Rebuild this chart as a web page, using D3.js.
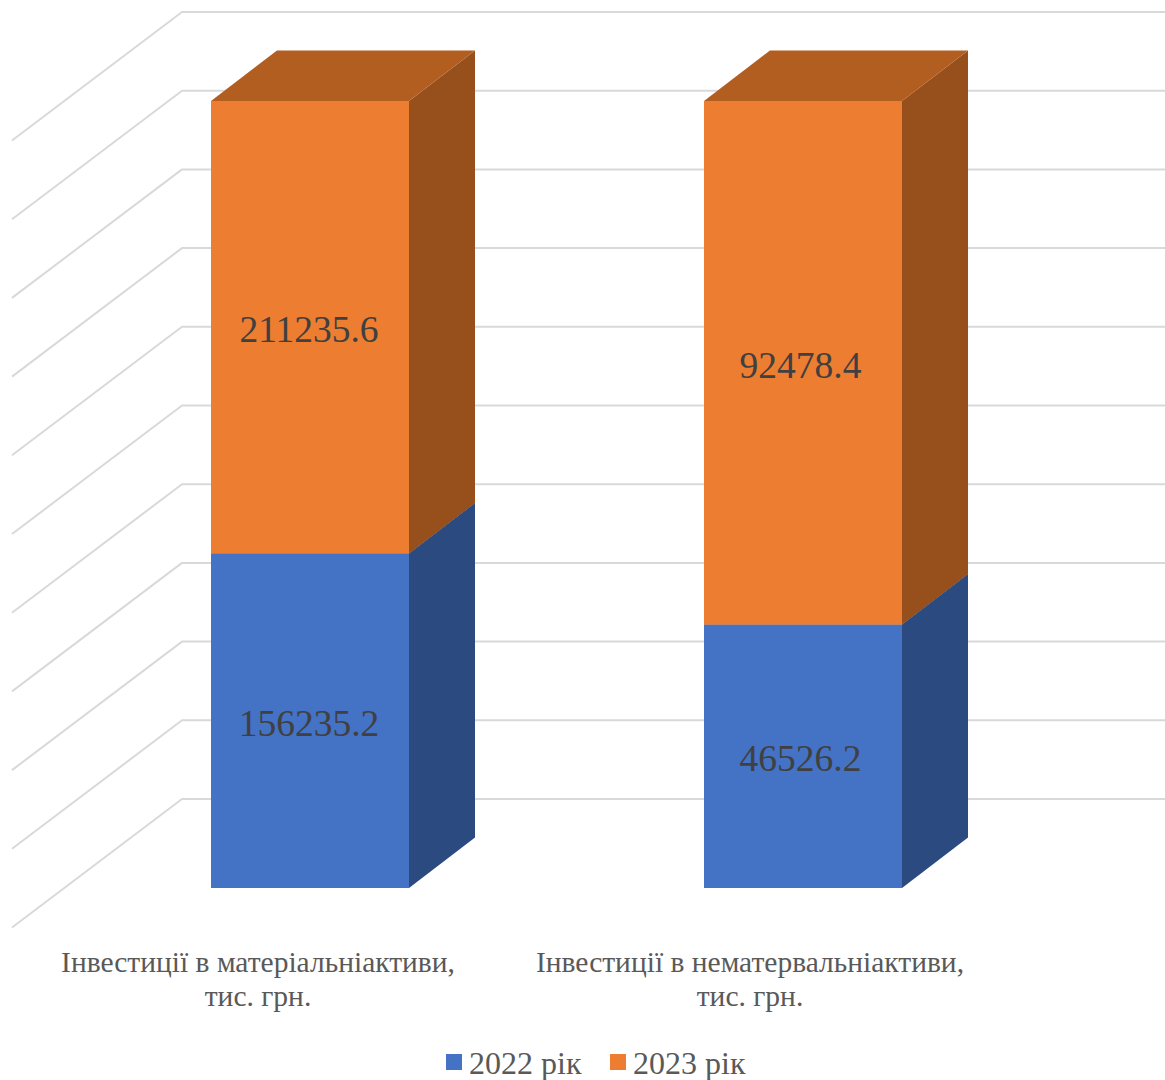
<!DOCTYPE html>
<html lang="uk">
<head>
<meta charset="utf-8">
<script src="https://cdn.jsdelivr.net/npm/d3@7"></script>
<style>
html,body{margin:0;padding:0;background:#fff;overflow:hidden}
svg{display:block;font-family:"Liberation Serif",serif}
</style>
</head>
<body>
<svg id="chart" width="1165" height="1080"></svg>
<script>
const categories = ["matAssets", "intAssets"];
const categoryLabelLines = [
  ["Інвестиції в матеріальніактиви,", "тис. грн."],
  ["Інвестиції в нематервальніактиви,", "тис. грн."]
];
const seriesNames = ["2022 рік", "2023 рік"];
const values2022 = [156235.2, 46526.2];
const values2023 = [211235.6, 92478.4];

const frontColors = ["#4472C4", "#ED7D31"];
const sideColors = ["#2A4A80", "#97501B"];
const topColors = ["#33598F", "#B35E21"];
const gridColor = "#D9D9D9";
const depthX = 66, depthY = 50.5;      // oblique 3D offset
const wallLeftX = 12, wallBackX = 182, wallRightX = 1165;

const svg = d3.select("#chart");

const rows = categories.map((c, i) => ({cat: c, s0: values2022[i], s1: values2023[i]}));
const stacked = d3.stack().keys(["s0", "s1"]).offset(d3.stackOffsetExpand)(rows);

const x = d3.scaleBand().domain(categories).range([63, 1050])
  .paddingInner(0.599).paddingOuter(0.3).round(true);
const y = d3.scaleLinear().domain([0, 1]).range([888, 101]);
const dataLabelX = d3.scalePoint().domain(categories).range([309, 800.5]);
const categoryLabelX = d3.scalePoint().domain(categories).range([258, 750]);

// gridlines: side wall + back wall
const grid = svg.append("g").attr("fill", "none").attr("stroke", gridColor).attr("stroke-width", 2);
grid.selectAll("path").data(y.ticks(10)).join("path")
  .attr("stroke-linejoin", "round")
  .attr("d", t => {
    const back = y(t) - 89;
    const front = y(t) + 39.5;
    return `M${wallLeftX},${front}L${wallBackX},${back}L${wallRightX},${back}`;
  });

// bars
const bars = svg.append("g");
stacked.forEach((layer, li) => {
  const g = bars.append("g");
  // side faces
  g.selectAll("path.side").data(layer).join("path").attr("class", "side")
    .attr("fill", sideColors[li])
    .attr("d", d => {
      const xr = x(d.data.cat) + x.bandwidth();
      const y0 = y(d[0]), y1 = y(d[1]);
      return `M${xr},${y0}L${xr + depthX},${y0 - depthY}L${xr + depthX},${y1 - depthY}L${xr},${y1}Z`;
    });
  // top faces
  g.selectAll("path.top").data(layer).join("path").attr("class", "top")
    .attr("fill", topColors[li])
    .attr("d", d => {
      const xl = x(d.data.cat), xr = xl + x.bandwidth();
      const y1 = y(d[1]);
      return `M${xl},${y1}L${xl + depthX},${y1 - depthY}L${xr + depthX},${y1 - depthY}L${xr},${y1}Z`;
    });
  // front faces
  g.selectAll("rect").data(layer).join("rect")
    .attr("fill", frontColors[li])
    .attr("x", d => x(d.data.cat))
    .attr("y", d => y(d[1]))
    .attr("width", x.bandwidth())
    .attr("height", d => y(d[0]) - y(d[1]));
});

// data labels
const labelValues = [values2022, values2023];
const labels = svg.append("g").attr("text-anchor", "middle")
  .attr("font-size", 37.5).attr("fill", "#404040");
stacked.forEach((layer, li) => {
  labels.append("g").selectAll("text").data(layer).join("text")
    .attr("x", d => dataLabelX(d.data.cat))
    .attr("y", d => (y(d[0]) + y(d[1])) / 2 + 15)
    .text((d, i) => labelValues[li][i]);
});

// category labels
const catG = svg.append("g").attr("text-anchor", "middle")
  .attr("font-size", 29.5).attr("fill", "#595959");
catG.selectAll("g").data(categories).join("g").each(function (c, i) {
  d3.select(this).selectAll("text").data(categoryLabelLines[i]).join("text")
    .attr("x", categoryLabelX(c))
    .attr("y", (_, k) => 972 + k * 34)
    .text(l => l);
});

// legend
const legendX = [446, 610];
const legend = svg.append("g");
seriesNames.forEach((name, i) => {
  legend.append("rect").attr("x", legendX[i]).attr("y", 1054)
    .attr("width", 16).attr("height", 16).attr("fill", frontColors[i]);
  legend.append("text").attr("x", legendX[i] + 23).attr("y", 1074)
    .attr("font-size", 32).attr("fill", "#595959").text(name);
});
</script>
</body>
</html>
